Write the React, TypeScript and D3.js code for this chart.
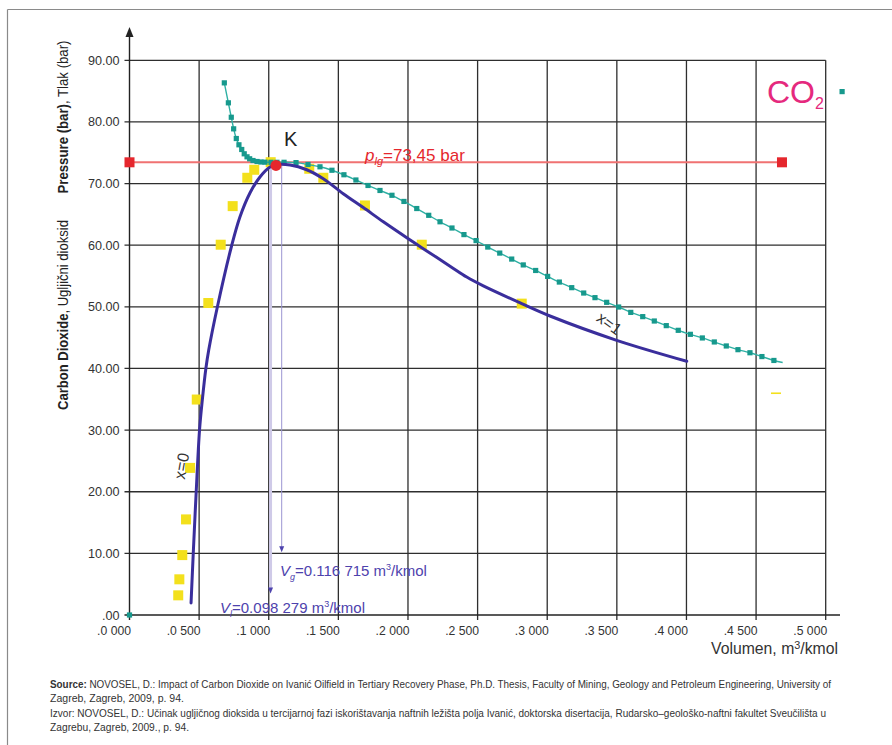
import React from "react";
import * as d3 from "d3";

// ---------- data ----------
const xTickValues = [0, 0.05, 0.1, 0.15, 0.2, 0.25, 0.3, 0.35, 0.4, 0.45, 0.5];
const xTickLabels = [".0 000", ".0 500", ".1 000", ".1 500", ".2 000", ".2 500", ".3 000", ".3 500", ".4 000", ".4 500", ".5 000"];
const yTickValues = [0, 10, 20, 30, 40, 50, 60, 70, 80, 90];
const yTickLabels = [".00", "10.00", "20.00", "30.00", "40.00", "50.00", "60.00", "70.00", "80.00", "90.00"];

// CO2 isotherm (teal, with markers)
const tealV = [0.0681, 0.0710, 0.0731, 0.0748, 0.0767, 0.0786, 0.0806, 0.0824, 0.0844, 0.0863, 0.0887, 0.0916, 0.0944, 0.0973, 0.1016, 0.1059,
  0.1110, 0.1196, 0.1282, 0.1368, 0.1454, 0.1540, 0.1626, 0.1713, 0.1799, 0.1885, 0.1971, 0.2063, 0.2149, 0.2230, 0.2316, 0.2402, 0.2489,
  0.2573, 0.2659, 0.2745, 0.2828, 0.2917, 0.3003, 0.3087, 0.3176, 0.3262, 0.3343, 0.3427, 0.3513, 0.3600, 0.3686, 0.3769, 0.3855, 0.3941,
  0.4028, 0.4114, 0.4200, 0.4286, 0.4370, 0.4456, 0.4542, 0.4628];
const tealP = [86.34, 83.10, 80.76, 78.88, 77.31, 76.29, 75.53, 74.83, 74.34, 74.02, 73.74, 73.58, 73.50, 73.47, 73.45, 73.45,
  73.45, 73.40, 73.10, 72.72, 72.16, 71.43, 70.58, 69.69, 68.88, 68.10, 67.10, 65.95, 64.85, 63.80, 62.79, 61.72, 60.75,
  59.70, 58.72, 57.75, 56.80, 55.90, 54.94, 54.02, 53.11, 52.24, 51.49, 50.73, 49.97, 49.10, 48.41, 47.70, 46.95, 46.19,
  45.54, 44.95, 44.30, 43.65, 43.05, 42.55, 41.93, 41.30];
const tealTailV = 0.4691;
const tealTailP = 40.96;

// saturation envelope x=0 / x=1 (purple)
const envV = [0.0442, 0.0458, 0.0479, 0.0503, 0.0523, 0.0548, 0.0569, 0.0631, 0.0733, 0.0793, 0.0865, 0.0937, 0.1009, 0.1052, 0.1153,
  0.1273, 0.1392, 0.1535, 0.1679, 0.1823, 0.2002, 0.2099, 0.2302, 0.2422, 0.2541, 0.2817, 0.3020, 0.3499, 0.4002];
const envP = [1.95, 10.06, 19.96, 30.02, 34.89, 39.92, 43.0, 49.98, 59.87, 64.58, 68.47, 71.07, 72.69, 73.05, 73.0,
  72.24, 70.78, 68.35, 66.1, 63.8, 61.05, 59.6, 56.6, 54.83, 53.4, 50.52, 48.51, 44.57, 41.17];

// measured points (yellow)
const yelV = [0.0350, 0.0358, 0.0379, 0.0406, 0.0435, 0.0483, 0.0566, 0.0655, 0.0741, 0.0846, 0.0896, 0.1014, 0.1291, 0.1392, 0.1691, 0.2099, 0.2817];
const yelP = [3.19, 5.79, 9.72, 15.51, 23.87, 34.96, 50.62, 60.08, 66.34, 70.94, 72.24, 73.47, 72.40, 70.94, 66.45, 60.08, 50.52];
const yelStrayV = 0.4643;
const yelStrayP = 35.98;

// critical point / annotations
const pCrit = 73.45;
const redLineV = [0.0, 0.4686];
const critV = 0.1052;
const critP = 72.95;
const vlV = 0.1013; // V_l arrow position
const vlEndP = 3.5;
const vgV = 0.1093; // V_g arrow position
const vgEndP = 10.2;

const sourceLines = [
  { bold: "Source:", text: " NOVOSEL, D.: Impact of Carbon Dioxide on Ivanić Oilfield in Tertiary Recovery Phase, Ph.D. Thesis, Faculty of Mining, Geology and Petroleum Engineering, University of", len: 781 },
  { bold: "", text: "Zagreb, Zagreb, 2009, p. 94.", len: 134 },
  { bold: "", text: "Izvor: NOVOSEL, D.: Učinak ugljičnog dioksida u tercijarnoj fazi iskorištavanja naftnih ležišta polja Ivanić, doktorska disertacija, Rudarsko–geološko-naftni fakultet Sveučilišta u", len: 776 },
  { bold: "", text: "Zagrebu, Zagreb, 2009., p. 94.", len: 139 },
];

const FONT = "'Liberation Sans', Arial, Helvetica, sans-serif";
const TEAL = "#17998d";
const PURPLE = "#3a2e9c";
const RED = "#e5272d";
const VIO = "#4d42ad";
const YEL = "#f3e01c";

export default function App() {
  const x = d3.scaleLinear().domain([0, 0.5]).range([129.5, 825.7]);
  const y = d3.scaleLinear().domain([0, 90]).range([615, 60.3]);

  const envLine = d3
    .line<number>()
    .x((_, i) => x(envV[i]))
    .y((_, i) => y(envP[i]))
    .curve(d3.curveCatmullRom.alpha(0.5));
  const tealPts: [number, number][] = tealV.map((v, i) => [x(v), y(tealP[i])]);
  tealPts.push([x(tealTailV), y(tealTailP)]);
  const tealLine = d3.line().curve(d3.curveCatmullRom.alpha(0.5))(tealPts) || "";

  const x0 = x(0);
  const y0 = y(0);

  return (
    <svg width={892} height={745} style={{ position: "absolute", left: 0, top: 0, background: "#fff" }} fontFamily={FONT}>
      <rect x={0} y={0} width={892} height={745} fill="#fff" />
      {/* frame */}
      <line x1={7.5} y1={9.5} x2={892} y2={9.5} stroke="#8a8a8a" strokeWidth={1.2} />
      <line x1={7.5} y1={9.5} x2={7.5} y2={745} stroke="#8a8a8a" strokeWidth={1.2} />

      {/* grid */}
      {yTickValues.filter((v) => v > 0).map((v) => (
        <line key={"gy" + v} x1={x0 - 5} x2={x(0.5)} y1={y(v)} y2={y(v)} stroke="#2e2e2e" strokeWidth={1.3} />
      ))}
      {xTickValues.filter((v) => v > 0).map((v) => (
        <line key={"gx" + v} x1={x(v)} x2={x(v)} y1={y(90)} y2={y0 + 5} stroke="#2e2e2e" strokeWidth={1.3} />
      ))}
      {/* axes */}
      <line x1={x0} x2={x0} y1={y0 + 5} y2={34} stroke="#222" strokeWidth={1.4} />
      <path d={`M${x0},27 L${x0 - 4},37 L${x0 + 4},37 Z`} fill="#222" />
      <line x1={x0 - 5} x2={840} y1={y0} y2={y0} stroke="#222" strokeWidth={1.4} />

      {/* y tick labels */}
      {yTickValues.map((v, i) => (
        <text key={"ty" + v} x={119.5} y={y(v) + 4.5} textAnchor="end" fontSize={12.6} fill="#333">
          {yTickLabels[i]}
        </text>
      ))}
      {/* x tick labels */}
      {xTickValues.map((v, i) => (
        <text key={"tx" + v} x={x(v) + 1.5} y={635} textAnchor="end" fontSize={12.2} fill="#333">
          {xTickLabels[i]}
        </text>
      ))}

      {/* axis titles */}
      <text transform="translate(67.5,117) rotate(-90)" textAnchor="middle" fontSize={14.5} fill="#222" textLength={153} lengthAdjust="spacingAndGlyphs">
        <tspan fontWeight="bold">Pressure (bar)</tspan>
        <tspan>, Tlak (bar)</tspan>
      </text>
      <text transform="translate(67.5,315) rotate(-90)" textAnchor="middle" fontSize={14.5} fill="#222" textLength={190} lengthAdjust="spacingAndGlyphs">
        <tspan fontWeight="bold">Carbon Dioxide</tspan>
        <tspan>, Ugljični dioksid</tspan>
      </text>
      <text x={711} y={654} fontSize={16} fill="#333" textLength={127} lengthAdjust="spacingAndGlyphs">
        <tspan>Volumen, m</tspan>
        <tspan fontSize={11} dy={-5}>3</tspan>
        <tspan dy={5}>/kmol</tspan>
      </text>

      {/* critical pressure line */}
      <line x1={x(redLineV[0])} x2={x(redLineV[1])} y1={y(pCrit)} y2={y(pCrit)} stroke="#f07272" strokeWidth={2} />
      <rect x={x(redLineV[0]) - 5} y={y(pCrit) - 5} width={10} height={10} fill={RED} />
      <rect x={x(redLineV[1]) - 5} y={y(pCrit) - 5} width={10} height={10} fill={RED} />

      {/* V_l / V_g drop lines */}
      <line x1={x(vlV)} x2={x(vlV)} y1={y(critP)} y2={y(vlEndP) - 4} stroke="#cfcae8" strokeWidth={3} />
      <path d={`M${x(vlV)},${y(vlEndP)} L${x(vlV) - 2.5},${y(vlEndP) - 6} L${x(vlV) + 2.5},${y(vlEndP) - 6} Z`} fill={VIO} />
      <line x1={x(vgV)} x2={x(vgV)} y1={y(critP)} y2={y(vgEndP) - 4} stroke="#9c95d2" strokeWidth={1} />
      <path d={`M${x(vgV)},${y(vgEndP)} L${x(vgV) - 2.5},${y(vgEndP) - 6} L${x(vgV) + 2.5},${y(vgEndP) - 6} Z`} fill={VIO} />

      {/* yellow measured points */}
      {yelV.map((v, i) => (
        <rect key={"yl" + i} x={x(v) - 5} y={y(yelP[i]) - 5} width={10} height={10} fill={YEL} />
      ))}
      <rect x={x(yelStrayV) - 5} y={y(yelStrayP) - 0.8} width={10} height={1.6} fill={YEL} />

      {/* teal isotherm */}
      <path d={tealLine} fill="none" stroke="#2fb0a4" strokeWidth={1.4} />
      {tealV.map((v, i) => (
        <rect key={"tl" + i} x={x(v) - 2.6} y={y(tealP[i]) - 2.6} width={5.2} height={5.2} fill={TEAL} />
      ))}
      <rect x={x(0) - 2.6} y={y(0) - 2.6} width={5.2} height={5.2} fill={TEAL} />

      {/* envelope */}
      <path d={envLine(envV) || ""} fill="none" stroke={PURPLE} strokeWidth={3} strokeLinecap="round" />

      {/* critical point */}
      <circle cx={x(critV)} cy={y(critP)} r={5.5} fill={RED} />
      <text x={284} y={146} fontSize={20} fill="#222">K</text>

      {/* p_lg label */}
      <text x={365} y={161} fontSize={17} fill={RED}>
        <tspan fontStyle="italic">p</tspan>
        <tspan fontStyle="italic" fontSize={11} dy={4}>lg</tspan>
        <tspan dy={-4}>=73,45 bar</tspan>
      </text>

      {/* V labels */}
      <text x={280} y={576} fontSize={15} fill={VIO}>
        <tspan fontStyle="italic">V</tspan>
        <tspan fontStyle="italic" fontSize={9} dy={4}>g</tspan>
        <tspan dy={-4}>=0.116 715 m</tspan>
        <tspan fontSize={9} dy={-6}>3</tspan>
        <tspan dy={6}>/kmol</tspan>
      </text>
      <text x={220} y={613} fontSize={15} fill={VIO}>
        <tspan fontStyle="italic">V</tspan>
        <tspan fontStyle="italic" fontSize={9} dy={4}>l</tspan>
        <tspan dy={-4}>=0.098 279 m</tspan>
        <tspan fontSize={9} dy={-6}>3</tspan>
        <tspan dy={6}>/kmol</tspan>
      </text>

      {/* x=0, x=1 */}
      <text transform="translate(187,467) rotate(-80)" textAnchor="middle" fontSize={16} fill="#333">x=0</text>
      <text transform="translate(606,328) rotate(36)" textAnchor="middle" fontSize={16} fill="#333">x=1</text>

      {/* CO2 legend */}
      <text x={767} y={103} fontSize={32} fill="#e5297d">
        <tspan>CO</tspan>
        <tspan fontSize={16} dy={6}>2</tspan>
      </text>
      <rect x={839.5} y={89} width={5.2} height={5.2} fill={TEAL} />

      {/* source */}
      {sourceLines.map((l, i) => (
        <text key={"src" + i} x={50} y={688 + i * 14.3} fontSize={10.5} fill="#333" textLength={l.len} lengthAdjust="spacingAndGlyphs">
          {l.bold ? <tspan fontWeight="bold">{l.bold}</tspan> : null}
          <tspan>{l.text}</tspan>
        </text>
      ))}
    </svg>
  );
}
